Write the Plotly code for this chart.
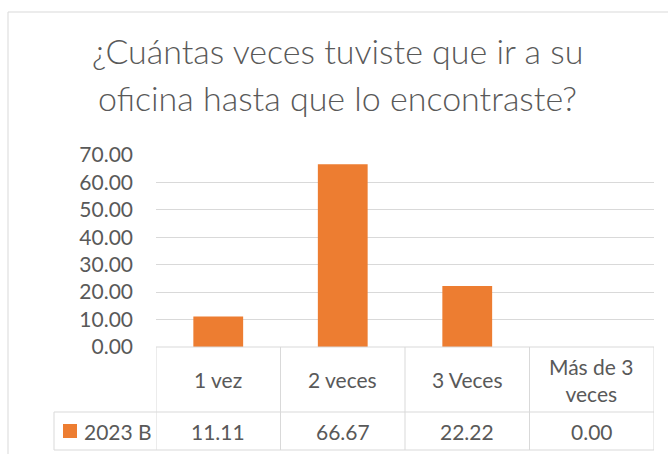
import plotly.graph_objects as go

# ---- data ----
categories = ["1 vez", "2 veces", "3 Veces", "Más de 3<br>veces"]
series_name = "2023 B"
values = [11.11, 66.67, 22.22, 0.00]
title_lines = ["¿Cuántas veces tuviste que ir a su", "oficina hasta que lo encontraste?"]
y_ticks = [0, 10, 20, 30, 40, 50, 60, 70]

# ---- layout constants (pixels) ----
W, H = 668, 454
PL, PR, PT, PB = 156, 654, 155, 347  # plot area box
FONT = "Lato"
TXT = "#595959"
GRID = "#d9d9d9"
ORANGE = "#ED7D31"


def px(xp):
    return (xp - PL) / (PR - PL)


def py(yp):
    return (PB - yp) / (PB - PT)


fig = go.Figure()
fig.add_trace(go.Bar(
    x=list(range(len(categories))), y=values, name=series_name,
    marker=dict(color=ORANGE, line=dict(width=0)),
    width=0.4, showlegend=False, hoverinfo="skip",
))

shapes = []
line = dict(color=GRID, width=1)
# chart border
shapes.append(dict(type="line", xref="paper", yref="paper", x0=px(8), x1=px(W + 5), y0=py(12), y1=py(12), line=line))
shapes.append(dict(type="line", xref="paper", yref="paper", x0=px(8), x1=px(8), y0=py(12), y1=py(H + 5), line=line))

# data table lines
n = len(categories)
row1_bottom = py(412)
row2_bottom = py(450)
shapes.append(dict(type="line", xref="x", yref="paper", x0=-0.5, x1=n - 0.5, y0=0, y1=0, line=line))
shapes.append(dict(type="line", xref="paper", yref="paper", x0=px(54), x1=1, y0=row1_bottom, y1=row1_bottom, line=line))
shapes.append(dict(type="line", xref="paper", yref="paper", x0=px(54), x1=1, y0=row2_bottom, y1=row2_bottom, line=line))
shapes.append(dict(type="line", xref="paper", yref="paper", x0=px(54), x1=px(54), y0=row1_bottom, y1=row2_bottom, line=line))
for i in range(n + 1):
    shapes.append(dict(type="line", xref="x", yref="paper", x0=i - 0.5, x1=i - 0.5, y0=0, y1=row2_bottom, line=line))
# legend key
shapes.append(dict(type="rect", xref="paper", yref="paper", x0=px(63), x1=px(77), y0=py(424), y1=py(438),
                   fillcolor=ORANGE, line=dict(width=0)))

annotations = []
# title lines
for k, (t, yb) in enumerate(zip(title_lines, [73, 120])):
    annotations.append(dict(text=t, xref="paper", yref="paper", x=px(337), y=py(yb), xanchor="center",
                            yanchor="bottom", showarrow=False,
                            font=dict(family=FONT, size=34, color=TXT, weight=300)))
# table text
for i, (c, v) in enumerate(zip(categories, values)):
    annotations.append(dict(text=c, xref="x", yref="paper", x=i, y=py(379.5), xanchor="center", yanchor="middle",
                            showarrow=False, font=dict(family=FONT, size=21, color=TXT)))
    annotations.append(dict(text=f"{v:.2f}", xref="x", yref="paper", x=i, y=py(431), xanchor="center",
                            yanchor="middle", showarrow=False, font=dict(family=FONT, size=21, color=TXT)))
annotations.append(dict(text=series_name, xref="paper", yref="paper", x=px(82), y=py(431), xanchor="left",
                        yanchor="middle", showarrow=False, font=dict(family=FONT, size=21, color=TXT)))

fig.update_layout(
    width=W, height=H,
    margin=dict(l=PL, r=W - PR, t=PT, b=H - PB, pad=0),
    paper_bgcolor="white", plot_bgcolor="white",
    shapes=shapes, annotations=annotations,
    xaxis=dict(range=[-0.5, n - 0.5], showticklabels=False, showgrid=False, zeroline=False,
               showline=False, ticks="", fixedrange=True),
    yaxis=dict(range=[0, 70], tickvals=y_ticks, tickformat=".2f", showgrid=True, gridcolor=GRID, gridwidth=1,
               zeroline=False, showline=False, ticks="", ticklabelstandoff=22,
               tickfont=dict(family=FONT, size=21, color=TXT), fixedrange=True),
    font=dict(family=FONT, color=TXT),
)

fig.write_html("out.html", config={"displayModeBar": False},
               post_script="document.body.style.margin='0';document.body.style.overflow='hidden';")
